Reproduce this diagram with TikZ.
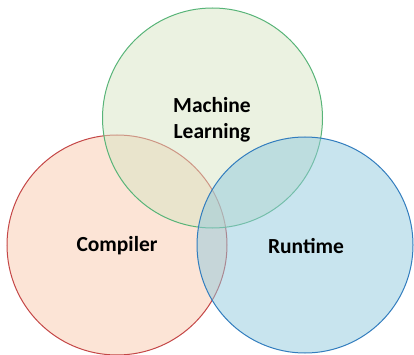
\documentclass[tikz,border=0pt]{standalone}
\usepackage{fontspec}
\setmainfont{Carlito}
\definecolor{mlstroke}{RGB}{88,180,120}
\definecolor{mlfill}{RGB}{215,229,195}
\definecolor{cpstroke}{RGB}{196,70,70}
\definecolor{cpfill}{RGB}{249,201,173}
\definecolor{rtstroke}{RGB}{50,125,190}
\definecolor{rtfill}{RGB}{145,201,221}
\tikzset{
  venn/.style={circle, line width=1pt, fill opacity=0.5, draw opacity=1, inner sep=0pt},
  lbl/.style={font=\fontsize{21.5}{26}\selectfont\bfseries, align=center, text=black}
}
\begin{document}
\begin{tikzpicture}[x=1pt,y=-1pt]
\useasboundingbox (0,0) rectangle (414,355);
\node[venn, minimum size=220pt, draw=cpstroke, fill=cpfill] (cp) at (117,245) {};
\node[venn, minimum size=220pt, draw=mlstroke, fill=mlfill] (ml) at (212.5,118) {};
\node[venn, minimum size=216pt, draw=rtstroke, fill=rtfill] (rt) at (305,245) {};
\node[lbl] (mlt) at (212,120) {Machine\\Learning};
\node[lbl] (cpt) at (117,246) {Compiler};
\node[lbl] (rtt) at (306,246) {Runtime};
\end{tikzpicture}
\end{document}
